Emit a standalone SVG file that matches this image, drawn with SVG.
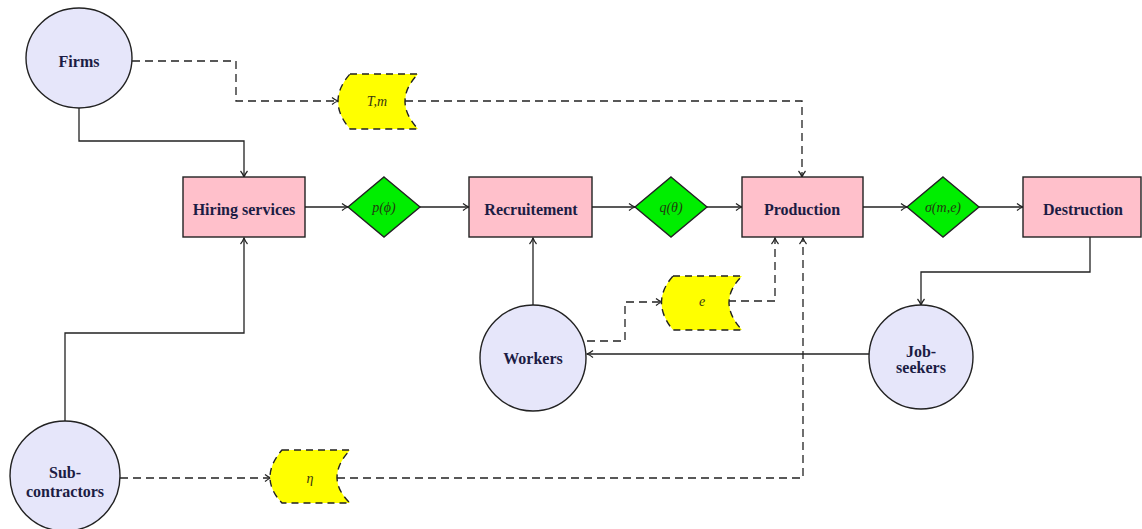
<svg xmlns="http://www.w3.org/2000/svg" width="1142" height="529" viewBox="0 0 1142 529">
<style>
.circ{fill:#e6e6fa;stroke:#222;stroke-width:1.4}
.box{fill:#ffc0cb;stroke:#222;stroke-width:1.4}
.dia{fill:#00ee00;stroke:#222;stroke-width:1.4}
.data{fill:#ffff00;stroke:#222;stroke-width:1.4;stroke-dasharray:7 5}
.lbl{font-family:'Liberation Serif','DejaVu Serif','Times New Roman',serif;font-weight:bold;font-size:16px;fill:#1c1c44;text-anchor:middle}
.math{font-family:'Liberation Serif','DejaVu Serif','Times New Roman',serif;font-style:italic;font-size:14px;fill:#203a10;text-anchor:middle}
.mathy{font-family:'Liberation Serif','DejaVu Serif','Times New Roman',serif;font-style:italic;font-size:14px;fill:#3a3a10;text-anchor:middle}
.solid{fill:none;stroke:#222;stroke-width:1.3}
.dash{fill:none;stroke:#222;stroke-width:1.3;stroke-dasharray:8 5}
</style>
<defs>
<marker id="arr" markerUnits="userSpaceOnUse" markerWidth="10" markerHeight="10" refX="7" refY="4" orient="auto">
<path d="M1,0.5 Q4,3 7,4 Q4,5 1,7.5" fill="none" stroke="#222" stroke-width="1.2" stroke-dasharray="none"/>
</marker>
</defs>
<rect width="1142" height="529" fill="#ffffff"/>
<g id="connectors">
<path class="dash" d="M132,61 H236 V101 H338" marker-end="url(#arr)"/>
<path class="dash" d="M405,101 H802 V177" marker-end="url(#arr)"/>
<path class="solid" d="M79,108 V141 H244 V177" marker-end="url(#arr)"/>
<path class="solid" d="M305,207 H348" marker-end="url(#arr)"/>
<path class="solid" d="M420,207 H469" marker-end="url(#arr)"/>
<path class="solid" d="M592,207 H635" marker-end="url(#arr)"/>
<path class="solid" d="M707,207 H742" marker-end="url(#arr)"/>
<path class="solid" d="M863,207 H907" marker-end="url(#arr)"/>
<path class="solid" d="M979,207 H1023" marker-end="url(#arr)"/>
<path class="solid" d="M533,305 V238" marker-end="url(#arr)"/>
<path class="dash" d="M587,341 H625 V302 H662" marker-end="url(#arr)"/>
<path class="dash" d="M728,301 H775 V238" marker-end="url(#arr)"/>
<path class="solid" d="M1090,237 V272 H921 V305" marker-end="url(#arr)"/>
<path class="solid" d="M869,354 H587" marker-end="url(#arr)"/>
<path class="solid" d="M65,424 V333 H244 V238" marker-end="url(#arr)"/>
<path class="dash" d="M120,478 H271" marker-end="url(#arr)"/>
<path class="dash" d="M337,478 H803 V238" marker-end="url(#arr)"/>
</g>
<g id="firms"><ellipse class="circ" cx="79" cy="58" rx="53" ry="50"/><text class="lbl" x="79" y="67">Firms</text></g>
<g id="tm"><path class="data" d="M350,74 H418 Q392,101 418,129 H350 Q326,101 350,74 Z"/><text class="mathy" x="377" y="106">T,m</text></g>
<g id="hiring"><rect class="box" x="183" y="177" width="122" height="60"/><text class="lbl" x="244" y="215">Hiring services</text></g>
<g id="p"><path class="dia" d="M384,177 L420,207 L384,237 L348,207 Z"/><text class="math" x="384" y="212">p(ϕ)</text></g>
<g id="recruitement"><rect class="box" x="469" y="177" width="123" height="60"/><text class="lbl" x="531" y="215">Recruitement</text></g>
<g id="q"><path class="dia" d="M671,177 L707,207 L671,237 L635,207 Z"/><text class="math" x="671" y="212">q(θ)</text></g>
<g id="production"><rect class="box" x="742" y="177" width="121" height="60"/><text class="lbl" x="802" y="215">Production</text></g>
<g id="sigma"><path class="dia" d="M943,177 L979,207 L943,237 L907,207 Z"/><text class="math" x="943" y="212">σ(m,e)</text></g>
<g id="destruction"><rect class="box" x="1023" y="177" width="118" height="60"/><text class="lbl" x="1083" y="215">Destruction</text></g>
<g id="e"><path class="data" d="M673,276 H742 Q716,302 742,330 H673 Q650,302 673,276 Z"/><text class="mathy" x="702" y="306">e</text></g>
<g id="workers"><circle class="circ" cx="533" cy="358" r="53"/><text class="lbl" x="533" y="364">Workers</text></g>
<g id="jobseekers"><circle class="circ" cx="921" cy="357" r="52"/><text class="lbl" x="921" y="357">Job-</text><text class="lbl" x="921" y="373">seekers</text></g>
<g id="subcontractors"><circle class="circ" cx="65" cy="476" r="55"/><text class="lbl" x="65" y="478">Sub-</text><text class="lbl" x="65" y="497">contractors</text></g>
<g id="eta"><path class="data" d="M282,450 H350 Q324,478 350,503 H282 Q258,478 282,450 Z"/><text class="mathy" x="310" y="483">η</text></g>
</svg>
